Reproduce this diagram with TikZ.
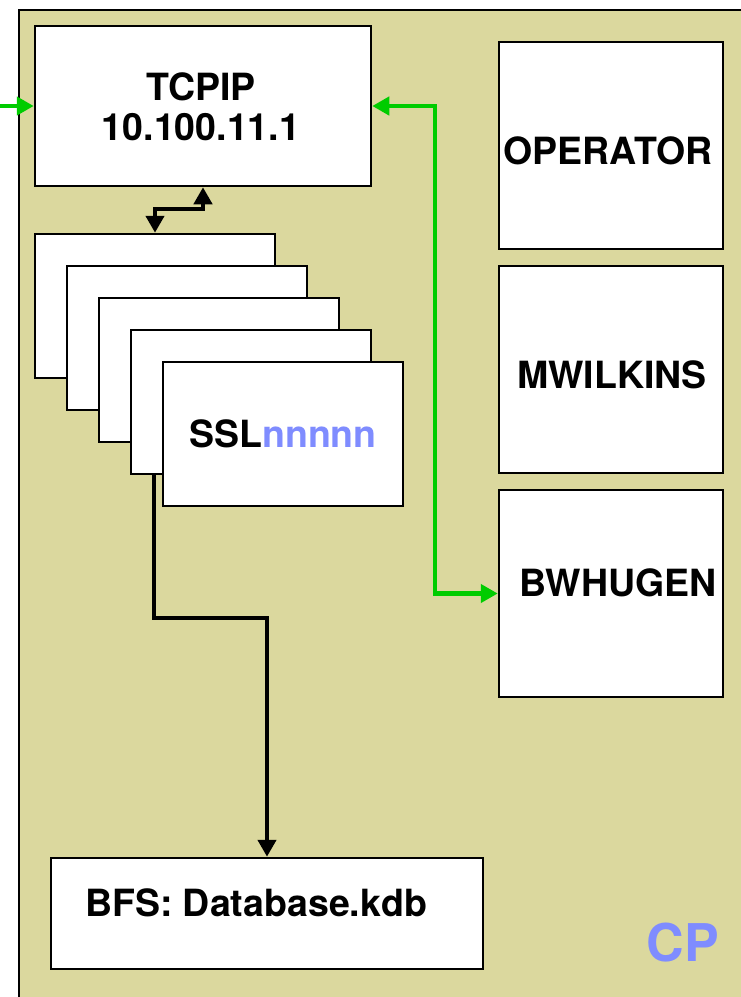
\documentclass[tikz,border=0pt]{standalone}
\usepackage{fontspec}
\setmainfont{TeX Gyre Heros}
\usetikzlibrary{arrows.meta}
\definecolor{panel}{RGB}{219,216,158}
\definecolor{linkgreen}{RGB}{0,204,0}
\definecolor{idblue}{RGB}{127,140,255}
\tikzset{
  box/.style={draw=black, fill=white, line width=2.5pt, inner sep=0pt, rectangle},
  lbl/.style={font=\bfseries\fontsize{37.5}{40}\selectfont, inner sep=0pt, align=center},
  tip/.style={arrows={-Triangle[length=17pt,width=18pt]}},
  tips/.style={arrows={Triangle[length=17pt,width=18pt]-Triangle[length=17pt,width=18pt]}},
  greenlink/.style={draw=linkgreen, line width=4.5pt},
  blacklink/.style={draw=black, line width=4.5pt},
}
\begin{document}
\begin{tikzpicture}[x=1pt,y=-1pt]
\useasboundingbox (0,0) rectangle (741,997);
\fill[white] (0,0) rectangle (741,997);
% CP panel
\draw[fill=panel, line width=2.5pt] (19,10) rectangle (760,1020);

% TCPIP
\node[box, minimum width=336pt, minimum height=160pt] (tcpip) at (203,106) {};
\node[lbl] (tcpiptext) at (201,107) {TCPIP\\10.100.11.1};

% stacked SSL sessions
\node[box, minimum width=240pt, minimum height=144pt] (ssl1) at (155,306) {};
\node[box, minimum width=240pt, minimum height=144pt] (ssl2) at (187,338) {};
\node[box, minimum width=240pt, minimum height=144pt] (ssl3) at (219,370) {};
\node[box, minimum width=240pt, minimum height=144pt] (ssl4) at (251,402) {};
\node[box, minimum width=240pt, minimum height=144pt] (ssl5) at (283,434) {};
\node[lbl] (ssltext) at (283,434) {SSL\textcolor{idblue}{nnnnn}};

% user sessions
\node[box, minimum width=224pt, minimum height=207pt] (oper) at (611,145.5) {};
\node[lbl] (opertext) at (608,151) {OPERATOR};
\node[box, minimum width=224pt, minimum height=207pt] (mw) at (611,369.5) {};
\node[lbl] (mwtext) at (612,375) {MWILKINS};
\node[box, minimum width=224pt, minimum height=207pt] (bw) at (611,593.5) {};
\node[lbl] (bwtext) at (618,583) {BWHUGEN};

% database
\node[box, minimum width=432pt, minimum height=111pt] (bfs) at (267,913.5) {};
\node[lbl] (bfstext) at (256,903) {BFS: Database.kdb};

% panel label
\node[font=\bfseries\fontsize{52}{56}\selectfont, text=idblue, inner sep=0pt] (cp) at (683,943) {CP};

% connectors
\coordinate (inleft) at (0,106);
\coordinate (gx) at (435,0);
\coordinate (jog) at (0,209);
\coordinate (turn) at (0,618);
\draw[greenlink, tip] (inleft) -- (tcpip.west);
\draw[greenlink, tips] (tcpip.east) -| (gx |- bw.west) -- (bw.west);
\draw[blacklink, tips] (tcpip.south) |- (ssl1.north |- jog) -- (ssl1.north);
\draw[blacklink, tip] ([xshift=24pt]ssl4.south west) |- (bfs.north |- turn) -- (bfs.north);
\end{tikzpicture}
\end{document}
